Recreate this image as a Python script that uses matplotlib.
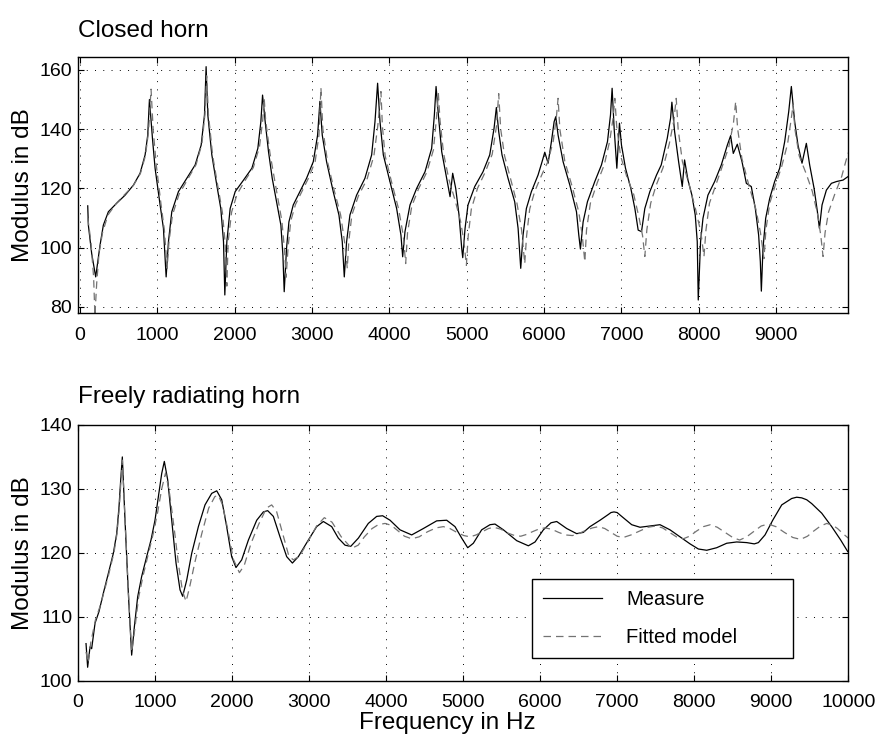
import matplotlib
matplotlib.use('Agg')
import matplotlib.pyplot as plt

plt.rcParams['font.family'] = ['Liberation Sans', 'DejaVu Sans']

# closed horn, measured (Hz, dB)
closed_f_meas = [99, 107, 150, 202, 258, 301, 366, 474, 582, 690, 776, 841, 875, 897, 936, 970,
                 1035, 1078, 1113, 1143, 1186, 1272, 1380, 1488, 1566, 1609, 1630, 1652, 1704, 1768,
                 1820, 1855, 1872, 1898, 1941, 2006, 2114, 2222, 2299, 2338, 2360, 2394, 2437, 2485,
                 2541, 2597, 2623, 2640, 2670, 2701, 2757, 2843, 2929, 3016, 3072, 3102, 3132, 3188,
                 3274, 3348, 3391, 3417, 3447, 3490, 3576, 3684, 3771, 3814, 3848, 3879, 3922, 4008,
                 4094, 4150, 4172, 4202, 4267, 4353, 4461, 4547, 4582, 4604, 4634, 4677, 4741, 4785,
                 4819, 4858, 4901, 4936, 4949, 4979, 5017, 5104, 5211, 5298, 5354, 5384, 5414, 5457,
                 5535, 5621, 5665, 5699, 5729, 5772, 5837, 5923, 5975, 6010, 6053, 6096, 6131, 6152,
                 6182, 6247, 6334, 6420, 6450, 6471, 6506, 6562, 6657, 6743, 6821, 6860, 6881, 6907,
                 6942, 6976, 7002, 7054, 7123, 7175, 7218, 7261, 7304, 7369, 7455, 7516, 7594, 7637,
                 7654, 7689, 7741, 7788, 7818, 7862, 7913, 7956, 7982, 7995, 8025, 8056, 8120, 8207,
                 8293, 8371, 8414, 8448, 8500, 8561, 8617, 8681, 8733, 8776, 8798, 8811, 8832, 8867,
                 8919, 8983, 9048, 9113, 9165, 9199, 9242, 9285, 9337, 9393, 9436, 9493, 9536, 9562,
                 9596, 9652, 9717, 9782, 9868, 9933]
closed_meas = [114.1, 107.6, 98, 90.1, 100.8, 107.6, 112.1, 115, 117.7, 121.1, 125.1, 131.3, 138, 150, 136.9, 126.8,
               114.4, 106.5, 90.1, 102, 112.1, 118.9, 123.4, 127.9, 134.6, 144.8, 161.1, 144.8, 131.3, 121.1,
               113.2, 102, 84, 102, 113.2, 118.9, 122.8, 126.8, 133.5, 142.5, 151.5, 142.5, 132.4, 123.4,
               115.5, 107.6, 97.5, 85.1, 99.7, 108.7, 114.4, 118.9, 123.4, 129, 138, 149.4, 138, 129,
               118.9, 111, 102, 90.1, 102, 111, 117.7, 123.4, 131.3, 142.5, 155.5, 142.5, 131.3, 122.3,
               113.2, 104.2, 96.9, 105.4, 114.4, 120, 125.6, 133.5, 144.8, 154.4, 144.8, 132.4, 123.4, 117.2,
               125.1, 120, 111, 99.7, 96.6, 106.5, 114.4, 120.6, 125.6, 131.3, 140.3, 147.3, 139.2, 131.3,
               123.4, 115.5, 106.5, 93, 104.2, 113.2, 118.9, 124.5, 129, 132.2, 128.5, 135.8, 142.5, 144.2,
               138, 129, 121.1, 112.1, 104.2, 99.5, 108.7, 115.5, 122.3, 127.9, 135.8, 144.8, 153.8, 140.3,
               126.8, 142, 134.6, 126.8, 120, 113.2, 105.9, 105.4, 113.2, 118.9, 124.5, 127.9, 136.9, 143.7,
               149.1, 139.2, 129, 120.6, 129.6, 122.8, 117.7, 111, 102, 82.3, 102, 109.9, 117.7, 122.3,
               127.9, 134.6, 137.8, 131.8, 134.9, 129, 121.7, 120.6, 113.2, 104.2, 95.2, 85.3, 99.7, 109.9,
               116.6, 122.3, 126.8, 135.8, 145.9, 154.4, 142.5, 134.6, 128.5, 135.2, 127.9, 120, 112.1, 106.5,
               114.4, 119.4, 121.7, 122.3, 122.8, 124]

# closed horn, fitted model
closed_f_fit = [100, 140, 175, 192, 215, 245, 290, 360, 470, 580, 690, 780, 845, 885, 918, 945, 985,
                1045, 1090, 1126, 1150, 1195, 1280, 1390, 1500, 1575, 1615, 1637, 1660, 1715, 1780, 1840,
                1875, 1898, 1915, 1960, 2030, 2130, 2240, 2320, 2362, 2381, 2400, 2455, 2535, 2610, 2645,
                2665, 2690, 2725, 2785, 2870, 2955, 3040, 3090, 3115, 3140, 3200, 3290, 3370, 3420, 3456,
                3475, 3515, 3600, 3710, 3800, 3850, 3891, 3910, 3945, 4030, 4120, 4180, 4211, 4235, 4290,
                4380, 4485, 4570, 4610, 4634, 4655, 4700, 4770, 4850, 4920, 4965, 4996, 5020, 5060, 5140,
                5240, 5330, 5385, 5414, 5440, 5490, 5570, 5650, 5710, 5751, 5775, 5815, 5880, 5970, 6050,
                6120, 6160, 6182, 6205, 6270, 6360, 6450, 6495, 6528, 6550, 6600, 6690, 6780, 6850, 6895,
                6916, 6940, 6990, 7070, 7160, 7230, 7275, 7304, 7330, 7380, 7450, 7540, 7620, 7680, 7710,
                7735, 7790, 7880, 7960, 8030, 8069, 8095, 8140, 8220, 8300, 8390, 8450, 8479, 8505, 8560,
                8650, 8740, 8800, 8845, 8870, 8920, 8990, 9070, 9150, 9195, 9221, 9245, 9300, 9390, 9470,
                9540, 9580, 9609, 9635, 9680, 9760, 9850, 9933]
closed_fit = [110, 102, 90, 77, 88, 98, 105, 111, 115, 118, 121, 125, 131, 139, 153.5, 140, 128,
              115, 106, 93, 102, 111, 118, 123, 128, 135, 145, 158, 145, 131, 121, 112,
              102, 87, 102, 112, 118, 122.5, 127, 134, 143, 150.5, 143, 132, 120, 109, 99,
              90, 100, 109, 114.5, 119, 123.5, 129, 138, 154, 140, 129, 119, 111, 102, 93,
              102, 111, 117.5, 123, 131, 141, 152.7, 141, 131, 122, 113, 104, 94.6, 105, 114,
              120, 125.5, 133, 144, 152, 143, 132, 123, 116, 109, 102, 94, 104, 113, 120,
              125.5, 131.5, 141, 152, 140, 131, 123, 115, 106, 94.6, 104, 113, 119, 124.5, 129,
              136, 144, 150.4, 140, 129, 121, 112, 104, 95.2, 106, 115, 122, 128, 136, 144,
              150.4, 141, 131, 124, 118, 110, 104, 97, 106, 115, 121, 127, 135, 143, 150.4,
              140, 129, 121, 113, 105, 97, 106, 115, 121, 127, 134, 142, 149.3, 140, 130,
              121, 113, 105, 96.3, 106, 115, 121, 127, 135, 143, 148.2, 140, 131, 125, 119,
              111, 104, 97, 105, 112, 118, 124, 132]

# freely radiating horn, measured
free_f_meas = [108, 129, 160, 181, 225, 276, 333, 398, 462, 506, 536, 558, 579, 614, 657, 700, 735,
               778, 830, 895, 951, 1003, 1047, 1090, 1124, 1168, 1220, 1276, 1328, 1362, 1414, 1479,
               1566, 1652, 1739, 1804, 1869, 1933, 1998, 2054, 2128, 2215, 2323, 2409, 2465, 2539, 2625,
               2712, 2786, 2863, 2993, 3101, 3188, 3296, 3382, 3469, 3542, 3642, 3771, 3880, 3957, 4053,
               4182, 4334, 4485, 4658, 4788, 4896, 4983, 5061, 5134, 5242, 5350, 5415, 5524, 5697, 5848,
               5935, 6043, 6142, 6216, 6346, 6475, 6562, 6648, 6778, 6886, 6920, 6959, 7000, 7059, 7189,
               7297, 7427, 7556, 7686, 7816, 7946, 8054, 8162, 8292, 8422, 8551, 8681, 8780, 8833, 8919,
               9019, 9136, 9265, 9330, 9395, 9460, 9525, 9655, 9784, 9901, 9992]
free_meas = [105.8, 102.1, 105.3, 105, 109, 110.8, 113.7, 116.8, 119.9, 123, 127.2, 131.4, 135, 125.1, 113.7, 104, 108.4,
             113.1, 116.3, 119.4, 122, 125.1, 128.8, 132.4, 134.3, 131.4, 125.1, 118.4, 114.2, 113.2, 115.7, 119.9,
             124.1, 127.5, 129.3, 129.7, 128.3, 124.1, 119.4, 117.7, 118.9, 122, 125.1, 126.4, 126.6, 125.7, 122.5,
             119.4, 118.4, 119.4, 122, 124.1, 124.9, 124.1, 122.3, 121.2, 121, 122.3, 124.6, 125.7, 125.8, 125.1,
             123.6, 122.8, 123.8, 125, 125.1, 124.1, 122.3, 120.8, 121.5, 123.6, 124.4, 124.5, 123.6, 121.9, 121.1,
             121.7, 123.6, 124.7, 124.9, 123.8, 123, 123.2, 124.1, 125.1, 126, 126.3, 126.4, 126.3, 125.7, 124.4,
             124, 124.2, 124.4, 123.6, 122.5, 121.4, 120.6, 120.4, 120.8, 121.5, 121.7, 121.6, 121.4, 121.6, 122.8,
             125.1, 127.5, 128.5, 128.7, 128.6, 128.3, 127.7, 126.2, 124.1, 122, 120.2]

# freely radiating horn, fitted model
free_f_fit = [108, 135, 170, 230, 300, 400, 470, 510, 540, 560, 580, 615, 660, 700, 740, 790, 850,
              920, 980, 1040, 1090, 1140, 1190, 1250, 1310, 1360, 1406, 1450, 1520, 1610, 1700, 1780,
              1825, 1880, 1950, 2020, 2098, 2160, 2250, 2350, 2450, 2517, 2580, 2660, 2740, 2798, 2880,
              2990, 3100, 3200, 3300, 3420, 3555, 3640, 3720, 3820, 3900, 3988, 4070, 4150, 4240, 4334,
              4430, 4540, 4650, 4745, 4830, 4920, 5010, 5091, 5170, 5250, 5330, 5400, 5490, 5580, 5670,
              5750, 5830, 5900, 5980, 6060, 6150, 6240, 6330, 6420, 6500, 6590, 6680, 6760, 6840, 6920,
              7000, 7080, 7180, 7290, 7400, 7500, 7590, 7680, 7770, 7860, 7940, 8030, 8120, 8210, 8300,
              8400, 8500, 8590, 8680, 8780, 8870, 8960, 9060, 9170, 9280, 9380, 9470, 9550, 9640, 9720,
              9800, 9860, 9930, 10000]
free_fit = [104.5, 102.8, 106, 109.5, 112, 116.5, 120, 123, 127, 131, 134.5, 125, 113.5, 104.5, 108, 113, 116.5,
            120, 123, 126.5, 130, 132.5, 129.5, 124, 118, 114, 112.4, 114.5, 118.5, 123, 127, 128.8,
            129, 127.5, 123.5, 119, 116.9, 118, 121.5, 124.5, 127, 127.5, 126.5, 123, 119.5, 118.9, 119.5,
            121.8, 124.2, 125.5, 124.8, 122.5, 120.7, 121.2, 122.5, 123.8, 124.4, 124.6, 124.3, 123.5, 122.6, 122.2,
            122.5, 123.3, 123.9, 124.1, 123.8, 123.2, 122.7, 122.5, 122.8, 123.3, 123.8, 124.0, 123.7, 123.1, 122.7,
            122.6, 122.9, 123.3, 123.7, 123.9, 123.7, 123.2, 122.8, 122.7, 123.0, 123.5, 123.9, 124.1, 123.8, 123.2,
            122.6, 122.4, 122.8, 123.4, 124.0, 124.2, 123.9, 123.2, 122.5, 122.2, 122.6, 123.4, 124.1, 124.4, 124.0,
            123.2, 122.4, 122.0, 122.5, 123.4, 124.2, 124.5, 124.1, 123.2, 122.4, 122.1, 122.6, 123.4, 124.2, 124.6,
            124.3, 123.8, 123.0, 122.3]

fs_tick = 14
fs_label = 17.5
grid_style = dict(color='k', linewidth=0.7, linestyle=(0, (1, 7.5)))

fig = plt.figure(figsize=(8.79, 7.35), dpi=100)
ax1 = fig.add_axes([0.0882, 0.5737, 0.8770, 0.3481])
ax2 = fig.add_axes([0.0884, 0.0739, 0.8767, 0.3479])

ax1.plot(closed_f_meas, closed_meas, color='k', lw=0.9, label='Measure')
ax1.plot(closed_f_fit, closed_fit, color='0.45', lw=0.9, linestyle=(0, (6, 4)), label='Fitted model')
ax1.set_xlim(-33, 9937)
ax1.set_ylim(77.8, 164.2)
ax1.set_xticks(range(0, 10000, 1000))
ax1.set_yticks(range(80, 161, 20))
ax1.set_ylabel('Modulus in dB', fontsize=fs_label)
ax1.set_title('Closed horn', loc='left', fontsize=fs_label, pad=15)

ax2.plot(free_f_meas, free_meas, color='k', lw=0.9, label='Measure')
ax2.plot(free_f_fit, free_fit, color='0.45', lw=0.9, linestyle=(0, (6, 4)), label='Fitted model')
ax2.set_xlim(0, 10000)
ax2.set_ylim(100, 140)
ax2.set_xticks(range(0, 10001, 1000))
ax2.set_yticks(range(100, 141, 10))
ax2.set_ylabel('Modulus in dB', fontsize=fs_label)
ax2.set_xlabel('Frequency in Hz', fontsize=fs_label, labelpad=1.0)
ax2.xaxis.label.set_x(0.48)
ax2.set_title('Freely radiating horn', loc='left', fontsize=fs_label, pad=16)

for ax in (ax1, ax2):
    ax.grid(True, **grid_style)
    ax.tick_params(direction='in', length=4.5, width=0.8, top=True, right=True, labelsize=fs_tick)
    ax.tick_params(axis='x', pad=9.5)
    ax.tick_params(axis='y', pad=4)
    for sp in ax.spines.values():
        sp.set_linewidth(1.0)

leg = ax2.legend(loc='lower left', bbox_to_anchor=(0.589, 0.09, 0.3396, 0.297), mode='expand',
                 fontsize=14.5, handlelength=2.95, handletextpad=1.2, labelspacing=0.9,
                 borderpad=0.55, fancybox=False, edgecolor='k', framealpha=1, borderaxespad=0)
leg.get_frame().set_linewidth(1.0)

fig.savefig('out.png', dpi=100)
